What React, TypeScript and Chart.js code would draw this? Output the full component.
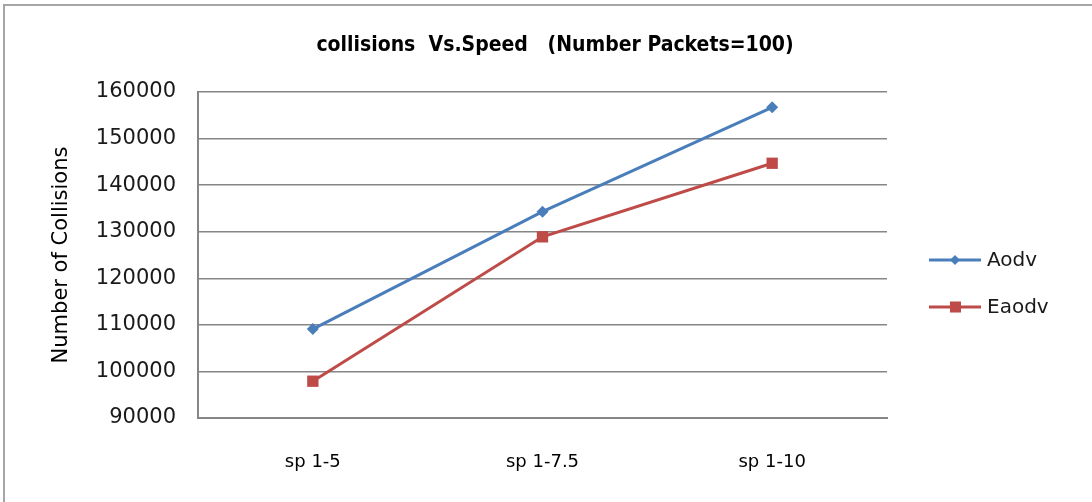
import React, { useEffect, useRef } from "react";
import { Chart, registerables } from "chart.js";

Chart.register(...registerables);

const categories = ["sp 1-5", "sp 1-7.5", "sp 1-10"];
const aodvValues = [109100, 134300, 156700];
const eaodvValues = [97900, 128900, 144700];
const seriesNames = ["Aodv", "Eaodv"];
const yTicks = [90000, 100000, 110000, 120000, 130000, 140000, 150000, 160000];
const titleText = "collisions  Vs.Speed   (Number Packets=100)";
const yTitleText = "Number of Collisions";

const BLUE = "#4a7ebb";
const RED = "#be4b48";
const GRID = "#868686";
const COND = "'DejaVu Sans Condensed', 'DejaVu Sans', sans-serif";
const WIDE = "'DejaVu Sans', Verdana, sans-serif";

const W = 1092;
const H = 502;
const PAD_LEFT = 18;
const AREA = { left: 198, right: 887, top: 92, bottom: 418 };

const frameAndLegend = {
  id: "frameAndLegend",
  afterDraw(chart: any) {
    const ctx = chart.ctx;
    ctx.save();
    ctx.fillStyle = "#a6a6a6";
    ctx.fillRect(3, 4, W - 3, 2);
    ctx.fillRect(3, 4, 2, H - 4);

    const rows = [260, 307];
    chart.data.datasets.forEach((ds: any, i: number) => {
      const y = rows[i];
      ctx.strokeStyle = ds.borderColor;
      ctx.lineWidth = 3;
      ctx.beginPath();
      ctx.moveTo(929, y);
      ctx.lineTo(981, y);
      ctx.stroke();
      ctx.fillStyle = ds.pointBackgroundColor;
      if (ds.pointStyle === "rectRot") {
        ctx.beginPath();
        ctx.moveTo(955, y - 5);
        ctx.lineTo(960, y);
        ctx.lineTo(955, y + 5);
        ctx.lineTo(950, y);
        ctx.closePath();
        ctx.fill();
      } else {
        ctx.fillRect(950, y - 5.5, 11, 11);
      }
      ctx.fillStyle = "#1a1a1a";
      ctx.font = `20px ${WIDE}`;
      ctx.textAlign = "left";
      ctx.textBaseline = "middle";
      ctx.fillText(seriesNames[i], 987, y + 1);
    });
    ctx.restore();
  },
};

export default function App() {
  const ref = useRef<HTMLCanvasElement | null>(null);

  useEffect(() => {
    if (!ref.current) return;
    const chart = new Chart(ref.current, {
      type: "line",
      data: {
        labels: categories,
        datasets: [
          {
            label: seriesNames[0],
            data: aodvValues,
            borderColor: BLUE,
            backgroundColor: BLUE,
            pointBackgroundColor: BLUE,
            pointBorderColor: BLUE,
            pointStyle: "rectRot",
            pointRadius: 6,
            pointBorderWidth: 0,
            borderWidth: 3,
            tension: 0,
          },
          {
            label: seriesNames[1],
            data: eaodvValues,
            borderColor: RED,
            backgroundColor: RED,
            pointBackgroundColor: RED,
            pointBorderColor: RED,
            pointStyle: "rect",
            pointRadius: 8,
            pointBorderWidth: 0,
            borderWidth: 3,
            tension: 0,
          },
        ],
      },
      options: {
        animation: false,
        responsive: false,
        maintainAspectRatio: false,
        layout: { padding: { left: PAD_LEFT, right: 0, top: 0, bottom: 0 } },
        plugins: {
          legend: { display: false },
          tooltip: { enabled: false },
          title: {
            display: true,
            text: titleText,
            color: "#000",
            font: { family: COND, size: 21, weight: "bold", lineHeight: 1.2 },
            padding: { top: 33, bottom: 92 - 33 - 21 * 1.2 },
          },
        },
        scales: {
          x: {
            offset: true,
            grid: { display: false, drawTicks: false },
            border: { display: true, color: GRID, width: 2 },
            ticks: {
              color: "#000",
              font: { family: WIDE, size: 18, lineHeight: 1.2 },
              padding: 34,
              maxRotation: 0,
            },
            afterFit(scale: any) {
              scale.height = H - AREA.bottom;
            },
          },
          y: {
            min: 90000,
            max: 160000,
            afterBuildTicks(scale: any) {
              scale.ticks = yTicks.map((v) => ({ value: v }));
            },
            grid: { color: GRID, lineWidth: 1.5, drawTicks: false },
            border: { display: true, color: GRID, width: 2 },
            ticks: {
              color: "#1a1a1a",
              font: { family: WIDE, size: 21 },
              padding: 22,
              callback: (v: any) => String(v),
            },
            title: {
              display: true,
              text: yTitleText,
              color: "#000",
              font: { family: WIDE, size: 21, lineHeight: 1.2 },
              padding: { top: 62 - PAD_LEFT - (21 * 1.2) / 2, bottom: 0 },
            },
            afterFit(scale: any) {
              scale.width = AREA.left - PAD_LEFT;
            },
          },
          spacer: {
            type: "linear",
            position: "right",
            display: false,
            afterFit(scale: any) {
              scale.width = W - AREA.right;
            },
          },
        },
      },
      plugins: [frameAndLegend],
    });
    return () => chart.destroy();
  }, []);

  return (
    <div style={{ position: "absolute", left: 0, top: 0, width: W, height: H, background: "#fff" }}>
      <canvas ref={ref} width={W} height={H} style={{ display: "block", width: W, height: H }} />
    </div>
  );
}
